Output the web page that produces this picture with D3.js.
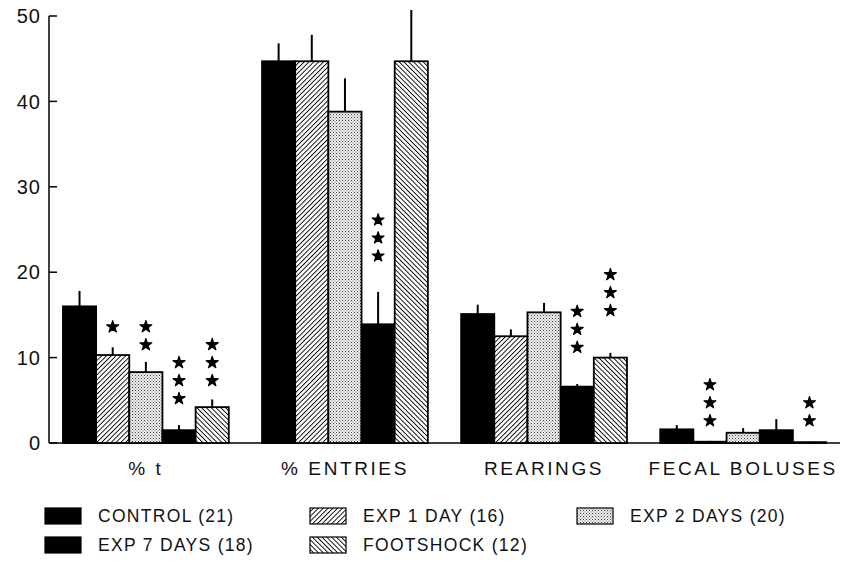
<!DOCTYPE html>
<html>
<head>
<meta charset="utf-8">
<script src="https://cdn.jsdelivr.net/npm/d3@7"></script>
<style>
  body { margin: 0; background: #fff; }
  svg { font-family: "Liberation Sans", Arial, sans-serif; }
  .tick-label { font-size: 20px; fill: #111; letter-spacing: 1px; }
  .cat-label { font-size: 19px; fill: #111; letter-spacing: 2.6px; }
  .legend-label { font-size: 17.5px; fill: #111; letter-spacing: 1.3px; }
</style>
</head>
<body>
<svg width="841" height="569"></svg>
<script>
// Measures along the x axis
const categories = ['% t', '% ENTRIES', 'REARINGS', 'FECAL BOLUSES'];
const groupNames = ['CONTROL (21)', 'EXP 1 DAY (16)', 'EXP 2 DAYS (20)', 'EXP 7 DAYS (18)', 'FOOTSHOCK (12)'];
const fills = ['solid', 'hatchUp', 'dots', 'solid', 'hatchDown'];

// Mean values per group (one entry per category)
const control   = [16.0, 44.7, 15.1, 1.6];
const exp1Day   = [10.3, 44.7, 12.5, 0.15];
const exp2Days  = [8.3, 38.8, 15.3, 1.2];
const exp7Days  = [1.5, 13.9, 6.6, 1.5];
const footshock = [4.2, 44.7, 10.0, 0.1];

// SEM, drawn as a single line above the bar
const controlErr   = [1.8, 2.1, 1.1, 0.5];
const exp1DayErr   = [0.9, 3.1, 0.8, 0.1];
const exp2DaysErr  = [1.2, 3.9, 1.1, 0.55];
const exp7DaysErr  = [0.6, 3.8, 0.3, 1.3];
const footshockErr = [0.9, 6.0, 0.55, 0.05];

// Number of significance stars and the value where the lowest star sits
const controlStars   = [0, 0, 0, 0];
const exp1DayStars   = [1, 0, 0, 3];
const exp2DaysStars  = [2, 0, 0, 0];
const exp7DaysStars  = [3, 3, 3, 0];
const footshockStars = [3, 0, 3, 2];
const starBase = [
  [0, 0, 0, 0],
  [13.6, 0, 0, 2.6],
  [11.5, 0, 0, 0],
  [5.2, 21.9, 11.2, 0],
  [7.3, 0, 15.5, 2.6]
];

const yTicks = [0, 10, 20, 30, 40, 50];

const means = [control, exp1Day, exp2Days, exp7Days, footshock];
const errs = [controlErr, exp1DayErr, exp2DaysErr, exp7DaysErr, footshockErr];
const stars = [controlStars, exp1DayStars, exp2DaysStars, exp7DaysStars, footshockStars];

const svg = d3.select('svg');
const axisX = 49, axisRight = 840;

const y = d3.scaleLinear().domain([0, 50]).range([443, 16]);
const x0 = d3.scaleBand().domain(categories).range([axisX, axisRight])
  .paddingInner(0.167).paddingOuter(0.07);
const x1 = d3.scaleBand().domain(d3.range(groupNames.length)).range([0, x0.bandwidth()]);

// Fill patterns
const defs = svg.append('defs');
function hatch(id, angle) {
  const p = defs.append('pattern')
    .attr('id', id)
    .attr('patternUnits', 'userSpaceOnUse')
    .attr('width', 3.4).attr('height', 3.4)
    .attr('patternTransform', `rotate(${angle})`);
  p.append('rect').attr('width', 3.4).attr('height', 3.4).attr('fill', '#fff');
  p.append('line').attr('x1', 0).attr('y1', 0).attr('x2', 0).attr('y2', 3.4)
    .attr('stroke', '#000').attr('stroke-width', 1.8);
}
hatch('hatchUp', 45);
hatch('hatchDown', -45);
const dp = defs.append('pattern')
  .attr('id', 'dots')
  .attr('patternUnits', 'userSpaceOnUse')
  .attr('width', 3).attr('height', 3);
dp.append('rect').attr('width', 3).attr('height', 3).attr('fill', '#eee');
dp.append('rect').attr('x', 0).attr('y', 0).attr('width', 1).attr('height', 1).attr('fill', '#444');
dp.append('rect').attr('x', 1.5).attr('y', 1.5).attr('width', 1).attr('height', 1).attr('fill', '#777');

const fillOf = f => f === 'solid' ? '#000' : `url(#${f})`;

// Axes
svg.append('line')
  .attr('x1', axisX).attr('x2', axisX)
  .attr('y1', y(50)).attr('y2', y(0))
  .attr('stroke', '#000').attr('stroke-width', 1.5);
svg.append('line')
  .attr('x1', axisX).attr('x2', axisRight)
  .attr('y1', y(0)).attr('y2', y(0))
  .attr('stroke', '#000').attr('stroke-width', 1.5);

svg.selectAll('.ytick')
  .data(yTicks)
  .enter()
  .append('line')
  .attr('class', 'ytick')
  .attr('x1', axisX).attr('x2', axisX + 8)
  .attr('y1', d => y(d)).attr('y2', d => y(d))
  .attr('stroke', '#000').attr('stroke-width', 1.5);

svg.selectAll('.tick-label')
  .data(yTicks)
  .enter()
  .append('text')
  .attr('class', 'tick-label')
  .attr('x', axisX - 8)
  .attr('y', d => y(d))
  .attr('dy', '0.36em')
  .attr('text-anchor', 'end')
  .text(d => d);

// Bars
const cells = [];
means.forEach((vals, g) => vals.forEach((v, c) => cells.push({
  g, c, v, e: errs[g][c], n: stars[g][c], base: starBase[g][c]
})));

const barX = d => x0(categories[d.c]) + x1(d.g);

svg.selectAll('.err')
  .data(cells)
  .enter()
  .append('line')
  .attr('class', 'err')
  .attr('x1', d => barX(d) + x1.bandwidth() / 2)
  .attr('x2', d => barX(d) + x1.bandwidth() / 2)
  .attr('y1', d => y(d.v))
  .attr('y2', d => y(d.v + d.e))
  .attr('stroke', '#000').attr('stroke-width', 2);

svg.selectAll('.bar')
  .data(cells)
  .enter()
  .append('rect')
  .attr('class', 'bar')
  .attr('x', d => barX(d))
  .attr('y', d => y(d.v))
  .attr('width', x1.bandwidth())
  .attr('height', d => y(0) - y(d.v))
  .attr('fill', d => fillOf(fills[d.g]))
  .attr('stroke', '#000')
  .attr('stroke-width', 1.8);

// Significance stars
const starPath = d3.symbol().type(d3.symbolStar).size(44)();
const starData = [];
cells.forEach(d => {
  for (let i = 0; i < d.n; i++) starData.push({ d, i });
});
svg.selectAll('.star')
  .data(starData)
  .enter()
  .append('path')
  .attr('class', 'star')
  .attr('d', starPath)
  .attr('fill', '#000')
  .attr('stroke', '#000')
  .attr('stroke-width', 1.2)
  .attr('stroke-linejoin', 'round')
  .attr('transform', s => `translate(${barX(s.d) + x1.bandwidth() / 2}, ${y(s.d.base) - s.i * 18})`);

// Category labels
svg.selectAll('.cat-label')
  .data(categories)
  .enter()
  .append('text')
  .attr('class', 'cat-label')
  .attr('x', d => x0(d) + x0.bandwidth() / 2)
  .attr('y', 475)
  .attr('text-anchor', 'middle')
  .text(d => d);

// Legend
const legendPos = [[45, 516], [310, 516], [577, 516], [45, 545], [310, 545]];
const legend = svg.selectAll('.legend')
  .data(groupNames)
  .enter()
  .append('g')
  .attr('class', 'legend')
  .attr('transform', (d, i) => `translate(${legendPos[i][0]}, ${legendPos[i][1]})`);

legend.append('rect')
  .attr('x', 0).attr('y', -8)
  .attr('width', 36).attr('height', 16)
  .attr('fill', (d, i) => fillOf(fills[i]))
  .attr('stroke', '#000').attr('stroke-width', 1.2);

legend.append('text')
  .attr('class', 'legend-label')
  .attr('x', 53)
  .attr('dy', '0.36em')
  .text(d => d);
</script>
</body>
</html>
